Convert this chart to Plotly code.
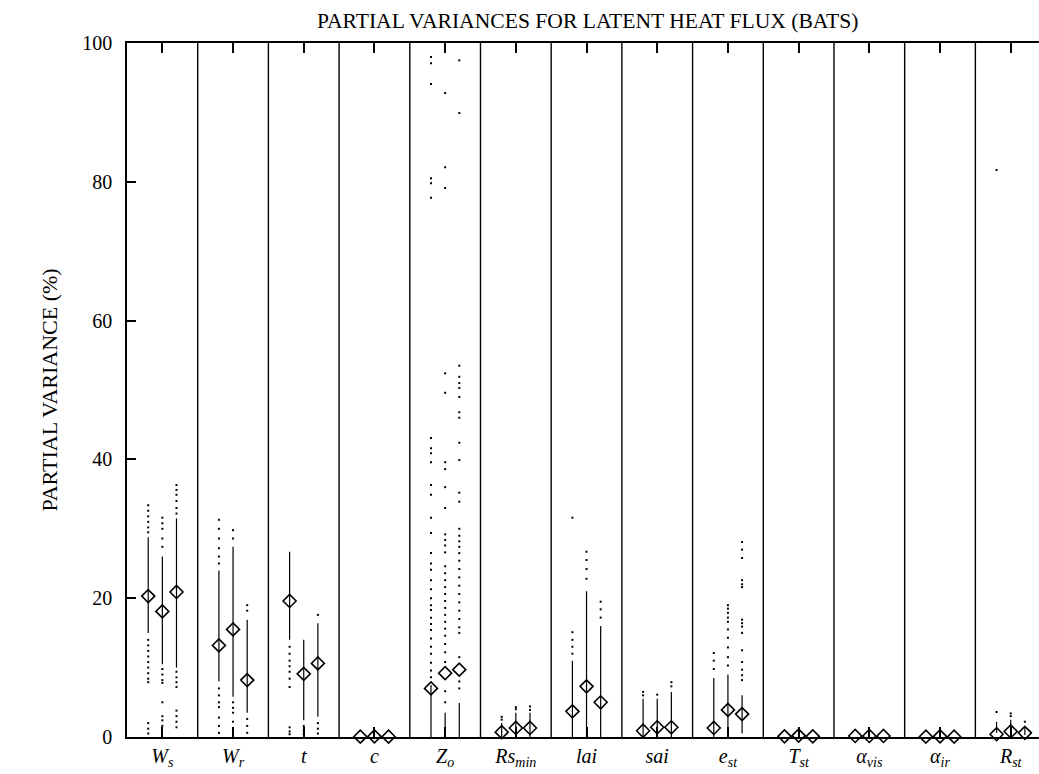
import plotly.graph_objects as go

labels = ["<i>W<sub>s</sub></i>", "<i>W<sub>r</sub></i>", "<i>t</i>", "<i>c</i>",
          "<i>Z<sub>o</sub></i>", "<i>Rs<sub>min</sub></i>", "<i>lai</i>", "<i>sai</i>",
          "<i>e<sub>st</sub></i>", "<i>T<sub>st</sub></i>", "<i>α<sub>vis</sub></i>",
          "<i>α<sub>ir</sub></i>", "<i>R<sub>st</sub></i>"]
groups = list(range(1, 14))

# mean partial variance (diamonds) for the three runs in each group
mean_left = [20.3, 13.2, 19.6, 0.05, 7.0, 0.7, 3.7, 0.9, 1.3, 0.1, 0.15, 0.05, 0.4]
mean_mid = [18.1, 15.5, 9.1, 0.1, 9.2, 1.3, 7.3, 1.4, 3.9, 0.2, 0.15, 0.1, 0.8]
mean_right = [20.9, 8.2, 10.6, 0.05, 9.7, 1.3, 5.0, 1.4, 3.3, 0.1, 0.15, 0.05, 0.6]

# dense (near continuous) part of the sample column
lo_left = [15.0, 8.0, 14.0, 0.05, 0.0, 0.0, 0.0, 0.0, 0.0, 0.1, 0.15, 0.05, 0.6]
hi_left = [28.8, 24.0, 26.7, 0.05, 7.5, 2.0, 11.0, 5.5, 8.5, 0.1, 0.15, 0.05, 2.2]
lo_mid = [10.5, 5.8, 2.4, 0.1, 0.0, 0.0, 0.0, 0.0, 0.0, 0.2, 0.15, 0.1, 0.3]
hi_mid = [26.0, 27.4, 14.0, 0.1, 3.5, 3.5, 21.0, 5.5, 9.0, 0.2, 0.15, 0.1, 2.5]
lo_right = [10.0, 3.5, 2.9, 0.05, 0.0, 0.0, 0.0, 0.0, 0.5, 0.1, 0.15, 0.05, 0.3]
hi_right = [31.5, 16.9, 16.4, 0.05, 4.9, 3.5, 16.0, 6.5, 6.0, 0.1, 0.15, 0.05, 1.6]

# sparse individual samples
dots_left = [
    [33.4, 32.6, 31.8, 31.0, 30.2, 29.5, 14.0, 13.2, 12.4, 11.6, 10.8, 10.0, 9.2, 8.4, 7.9, 2.0, 1.2, 0.5],
    [31.3, 30.0, 28.6, 27.2, 26.0, 25.0, 7.0, 6.0, 5.0, 4.3, 2.8, 1.6, 0.6],
    [13.0, 12.0, 11.0, 10.2, 9.4, 8.4, 7.2, 1.4, 0.8, 0.4],
    [],
    [98.0, 97.1, 94.1, 80.5, 79.8, 77.7, 43.1, 41.6, 40.9, 39.6, 36.3, 34.9, 31.6, 29.4, 26.5, 25.0,
     24.1, 22.6, 21.3, 20.0, 19.0, 18.3, 17.2, 16.3, 15.4, 14.2, 13.0, 12.0, 10.7, 9.6, 8.6],
    [2.9, 2.5],
    [31.6, 15.1, 14.0, 13.0, 12.0],
    [6.5, 6.0],
    [12.1, 11.0, 9.8],
    [], [], [],
    [3.6, 81.7],
]
dots_mid = [
    [31.6, 30.8, 30.0, 28.6, 27.4, 9.8, 9.0, 8.2, 7.8, 5.0, 3.0, 2.4, 1.6],
    [29.8, 28.6, 5.0, 4.2, 3.5, 2.2, 0.8],
    [1.6, 0.9, 0.4],
    [],
    [92.8, 82.1, 79.1, 52.4, 49.6, 39.6, 38.6, 36.0, 33.0, 29.2, 28.4, 27.6, 26.6, 24.6, 23.6, 22.6,
     21.6, 20.6, 19.6, 18.6, 17.6, 16.6, 15.6, 14.6, 13.4, 12.2, 10.8, 6.6, 5.0],
    [4.3, 4.0],
    [26.7, 25.5, 24.2, 22.8],
    [6.1],
    [19.0, 18.5, 17.9, 17.2, 16.6, 15.5, 14.3, 12.9, 11.5, 10.3],
    [], [], [],
    [3.4, 3.0],
]
dots_right = [
    [36.3, 35.6, 34.9, 34.0, 33.0, 32.2, 9.4, 8.6, 7.9, 7.2, 3.8, 3.0, 2.2, 1.4],
    [19.0, 18.2, 2.6, 1.6, 0.6],
    [17.6, 2.0, 1.2, 0.5],
    [],
    [97.5, 89.9, 53.5, 51.9, 51.0, 50.3, 49.0, 46.8, 46.0, 42.4, 39.9, 35.2, 33.9, 30.0, 29.0, 28.2,
     27.4, 26.5, 25.4, 24.2, 23.0, 21.8, 20.6, 19.4, 18.2, 17.0, 15.8, 15.0, 11.5, 8.0, 7.0],
    [4.4, 3.9],
    [19.5, 18.4, 17.2],
    [7.9, 7.3],
    [28.1, 27.0, 25.8, 22.6, 22.0, 21.6, 16.9, 16.4, 15.9, 15.0, 12.5, 10.8, 9.7, 8.9, 8.2],
    [], [], [],
    [2.2],
]

y_ticks = [0, 20, 40, 60, 80, 100]
FONT = "Liberation Serif, Times New Roman, serif"

fig = go.Figure()

runs = [(-0.2, mean_left, lo_left, hi_left, dots_left),
        (0.0, mean_mid, lo_mid, hi_mid, dots_mid),
        (0.2, mean_right, lo_right, hi_right, dots_right)]

for off, means, los, his, dots in runs:
    xs = [g + off for g in groups]
    dx, dy = [], []
    for g, vals in zip(groups, dots):
        for v in vals:
            dx.append(g + off)
            dy.append(v)
    fig.add_trace(go.Scatter(x=dx, y=dy, mode="markers",
                             marker=dict(symbol="square", size=2, color="black"),
                             hoverinfo="skip", showlegend=False, cliponaxis=False))
    fig.add_trace(go.Scatter(
        x=xs, y=means, mode="markers",
        marker=dict(symbol="diamond-open", size=10, color="black", line=dict(width=1.6, color="black")),
        error_y=dict(type="data", symmetric=False,
                     array=[h - m for h, m in zip(his, means)],
                     arrayminus=[m - l for m, l in zip(means, los)],
                     width=0, thickness=1.2, color="black"),
        showlegend=False, cliponaxis=False))

# separators between parameter groups
for g in groups[:-1]:
    fig.add_shape(type="line", x0=g + 0.5, x1=g + 0.5, y0=0, y1=100,
                  xref="x", yref="y", line=dict(color="black", width=1.4))

fig.add_annotation(text="PARTIAL VARIANCES FOR LATENT HEAT FLUX (BATS)",
                   xref="paper", yref="paper", x=0.505, y=1.031,
                   xanchor="center", yanchor="middle", showarrow=False,
                   font=dict(family=FONT, size=21.6, color="black"))
fig.add_annotation(text="PARTIAL VARIANCE (%)", textangle=-90,
                   xref="paper", yref="paper", x=-0.085, y=0.5,
                   xanchor="center", yanchor="middle", showarrow=False,
                   font=dict(family=FONT, size=22, color="black"))

fig.update_layout(
    width=1039, height=774,
    margin=dict(l=127, r=0, t=43, b=37, autoexpand=False),
    paper_bgcolor="white", plot_bgcolor="white",
    font=dict(family=FONT, size=20, color="black"),
    xaxis=dict(range=[0.5, 13.4], tickvals=groups, ticktext=labels, automargin=False,
               ticks="inside", ticklen=10, tickwidth=1.5, tickcolor="black",
               showline=True, linewidth=1.5, linecolor="black", mirror="ticks",
               showgrid=False, zeroline=False, ticklabelstandoff=0,
               tickfont=dict(family=FONT, size=20, color="black")),
    yaxis=dict(range=[0, 100], tickvals=y_ticks, automargin=False,
               ticks="inside", ticklen=9, tickwidth=1.5, tickcolor="black",
               showline=True, linewidth=1.5, linecolor="black",
               showgrid=False, zeroline=False, ticklabelstandoff=9,
               tickfont=dict(family=FONT, size=20, color="black")),
)

fig.write_html("out.html", config={"displayModeBar": False},
               post_script="document.body.style.margin='0';document.body.style.overflow='hidden';")
